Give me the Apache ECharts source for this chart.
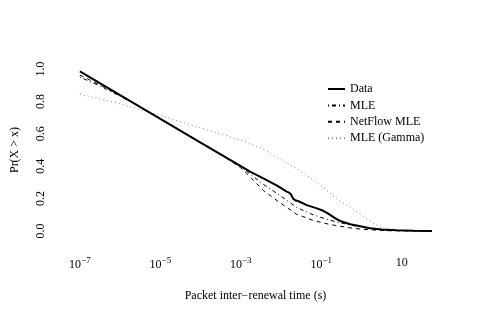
<!DOCTYPE html>
<html>
<head>
<meta charset="utf-8">
<script src="https://cdn.jsdelivr.net/npm/echarts@6/dist/echarts.min.js"></script>
<style>html,body{margin:0;padding:0;background:#fff;}#c{width:480px;height:320px;}</style>
</head>
<body>
<div id="c"></div>
<script>
// x values are log10 of packet inter-renewal time (s)
var dataLogT = [-7, -6, -5, -4, -3, -2.77, -2.44, -2.1, -1.86, -1.8, -1.75, -1.7, -1.65, -1.55, -1.36, -1.11, -0.95, -0.86, -0.78, -0.65, -0.53, -0.28, 0.0, 0.21, 0.5, 0.88, 1.3, 1.75];
var dataP    = [0.985, 0.838, 0.692, 0.545, 0.40, 0.366, 0.325, 0.28, 0.243, 0.237, 0.225, 0.200, 0.190, 0.182, 0.160, 0.140, 0.125, 0.112, 0.100, 0.078, 0.062, 0.042, 0.028, 0.017, 0.009, 0.005, 0.002, 0.0];

var mleLogT = [-7, -6.5, -6, -5.5, -5, -4, -3.3, -3, -2.77, -2.44, -2, -1.61, -1.2, -0.78, -0.28, 0.29, 0.88, 1.75];
var mleP    = [0.95, 0.895, 0.832, 0.765, 0.693, 0.546, 0.443, 0.397, 0.352, 0.288, 0.215, 0.145, 0.100, 0.066, 0.037, 0.012, 0.003, 0.0];

var netLogT = [-7, -6.5, -6, -5.5, -5, -4, -3.3, -3, -2.77, -2.44, -2, -1.61, -1.2, -0.78, -0.3, 0.04, 0.63, 1.75];
var netP    = [0.962, 0.902, 0.835, 0.766, 0.693, 0.546, 0.44, 0.39, 0.335, 0.25, 0.17, 0.103, 0.065, 0.04, 0.02, 0.01, 0.002, 0.0];

var gamLogT = [-7, -6, -5.2, -4.4, -3.55, -3, -2.5, -2, -1.56, -1, -0.73, -0.5, -0.28, 0.05, 0.3, 0.55, 0.9, 1.3, 1.75];
var gamP    = [0.845, 0.785, 0.728, 0.667, 0.603, 0.56, 0.512, 0.44, 0.377, 0.28, 0.222, 0.178, 0.15, 0.088, 0.048, 0.012, 0.003, 0.001, 0.0];

var xTickExps = [-7, -5, -3, -1, 1];
var yTicks = [0, 0.2, 0.4, 0.6, 0.8, 1.0];
var seriesNames = ['Data', 'MLE', 'NetFlow MLE', 'MLE (Gamma)'];

function pairs(xs, ys) { return xs.map(function (x, i) { return [x, ys[i]]; }); }

var FONT = '"Liberation Serif", "Times New Roman", serif';
var chart = echarts.init(document.getElementById('c'), null, {renderer: 'canvas'});
chart.setOption({
  animation: false,
  backgroundColor: '#fff',
  grid: {left: 65, right: 34, top: 62.5, bottom: 82.5},
  legend: {
    orient: 'vertical', left: 322, top: 78, padding: 5,
    itemWidth: 17, itemHeight: 12, itemGap: 4.4, itemStyle: {opacity: 0},
    textStyle: {fontFamily: FONT, fontSize: 12, color: '#000'},
    data: seriesNames
  },
  xAxis: {
    type: 'value', min: -7.37, max: 2.10,
    axisLine: {show: false}, axisTick: {show: false}, splitLine: {show: false},
    axisLabel: {
      customValues: xTickExps, margin: 19,
      fontFamily: FONT, fontSize: 12, color: '#000',
      formatter: function (v) { return v === 1 ? '{b|10}' : '{b|10}{s|' + String(v).replace('-', '\u2212') + '}'; },
      rich: {
        b: {fontFamily: FONT, fontSize: 12, color: '#000'},
        s: {fontFamily: FONT, fontSize: 9, color: '#000', padding: [0, 0, 8, 0]}
      }
    },
    name: 'Packet inter\u2212renewal time (s)', nameLocation: 'middle', nameGap: 52,
    nameTextStyle: {fontFamily: FONT, fontSize: 12, color: '#000'}
  },
  yAxis: {
    type: 'value', min: -0.04, max: 1.04,
    axisLine: {show: false}, axisTick: {show: false}, splitLine: {show: false},
    axisLabel: {
      customValues: yTicks, rotate: 90, margin: 18,
      fontFamily: FONT, fontSize: 12, color: '#000',
      formatter: function (v) { return v.toFixed(1); }
    },
    name: 'Pr(X > x)', nameLocation: 'middle', nameRotate: 90, nameGap: 44,
    nameTextStyle: {fontFamily: FONT, fontSize: 12, color: '#000'}
  },
  series: [
    {name: seriesNames[0], type: 'line', symbol: 'none', data: pairs(dataLogT, dataP),
     lineStyle: {color: '#000', width: 2}, itemStyle: {color: '#000'}, z: 5},
    {name: seriesNames[1], type: 'line', symbol: 'none', data: pairs(mleLogT, mleP),
     lineStyle: {color: '#000', width: 1, type: [1, 3, 4, 3]}, itemStyle: {color: '#000'}},
    {name: seriesNames[2], type: 'line', symbol: 'none', data: pairs(netLogT, netP),
     lineStyle: {color: '#000', width: 1, type: [4, 4]}, itemStyle: {color: '#000'}},
    {name: seriesNames[3], type: 'line', symbol: 'none', data: pairs(gamLogT, gamP),
     lineStyle: {color: '#888', width: 1, type: [1, 3]}, itemStyle: {color: '#888'}}
  ]
});
</script>
</body>
</html>
